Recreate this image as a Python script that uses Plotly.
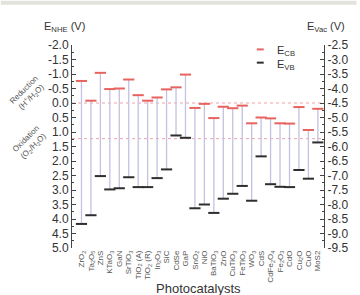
import plotly.graph_objects as go

# ---------------- data ----------------
categories = ["ZrO<sub>2</sub>", "Ta<sub>2</sub>O<sub>5</sub>", "ZnS", "KTaO<sub>3</sub>", "GaN",
              "SrTiO<sub>3</sub>", "TiO<sub>2</sub> (A)", "TiO<sub>2</sub> (R)", "In<sub>2</sub>O<sub>3</sub>",
              "SiC", "CdSe", "GaP", "SnO<sub>2</sub>", "NiO", "BaTiO<sub>3</sub>", "ZnO",
              "CuTiO<sub>3</sub>", "FeTiO<sub>3</sub>", "WO<sub>3</sub>", "CdS",
              "CdFe<sub>2</sub>O<sub>4</sub>", "Fe<sub>2</sub>O<sub>3</sub>", "CdO", "Cu<sub>2</sub>O",
              "CuO", "MoS2"]
e_cb = [-0.76, -0.08, -1.04, -0.48, -0.50, -0.81, -0.27, -0.08, -0.19, -0.47, -0.54, -0.98, 0.17,
        0.03, 0.52, 0.13, 0.18, 0.09, 0.70, 0.50, 0.53, 0.70, 0.71, 0.14, 0.93, 0.20]
e_vb = [4.17, 3.87, 2.52, 2.98, 2.94, 2.56, 2.90, 2.90, 2.59, 2.29, 1.12, 1.20, 3.63,
        3.50, 3.79, 3.30, 3.13, 2.86, 3.37, 1.84, 2.80, 2.89, 2.90, 2.31, 2.61, 1.36]
nhe_ticks = [-2.0, -1.5, -1.0, -0.5, 0.0, 0.5, 1.0, 1.5, 2.0, 2.5, 3.0, 3.5, 4.0, 4.5, 5.0]
vac_ticks = [-2.5, -3.0, -3.5, -4.0, -4.5, -5.0, -5.5, -6.0, -6.5, -7.0, -7.5, -8.0, -8.5, -9.0, -9.5]
water_levels = [0.0, 1.23]   # H+/H2 and O2/H2O

W, H = 360, 295
L, R, T, B = 72, 33, 45, 43
PW, PH = W - L - R, H - T - B


def pxx(p):
    return (p - L) / PW


def pxy(p):
    return 1 - (p - T) / PH


idx = list(range(len(categories)))

RED = "#e8625e"
BLK = "#2e2e2e"
LAV = "#c2c2e2"

fig = go.Figure()

# connecting vertical lines CB -> VB
xs, ys = [], []
for i, c, v in zip(idx, e_cb, e_vb):
    xs += [i, i, None]
    ys += [c, v, None]
fig.add_trace(go.Scatter(x=xs, y=ys, mode="lines", line=dict(color=LAV, width=1.3),
                         hoverinfo="skip", showlegend=False))

fig.add_trace(go.Scatter(x=idx, y=e_cb, mode="markers", name="E<sub>CB</sub>",
                         marker=dict(symbol="line-ew", size=8, line=dict(color=RED, width=2)),
                         showlegend=False))
fig.add_trace(go.Scatter(x=idx, y=e_vb, mode="markers", name="E<sub>VB</sub>",
                         marker=dict(symbol="line-ew", size=8, line=dict(color=BLK, width=2)),
                         showlegend=False))
# dummy trace so the vacuum-scale axis is drawn
fig.add_trace(go.Scatter(x=[None], y=[None], yaxis="y2", showlegend=False, hoverinfo="skip"))

shapes = []
for lv in water_levels:
    shapes.append(dict(type="line", xref="paper", yref="y", x0=0, x1=1, y0=lv, y1=lv,
                       line=dict(color="#f2a0a6", width=1, dash="dot"), layer="below"))
# top grey band of the original screenshot
shapes.append(dict(type="rect", xref="paper", yref="paper", x0=pxx(0), x1=pxx(W),
                   y0=pxy(4), y1=pxy(0), fillcolor="#e3e3dc", line=dict(width=0), layer="below"))
# legend dashes
shapes.append(dict(type="line", xref="paper", yref="paper", x0=pxx(259), x1=pxx(266),
                   y0=pxy(49.5), y1=pxy(49.5), line=dict(color=RED, width=2)))
shapes.append(dict(type="line", xref="paper", yref="paper", x0=pxx(259), x1=pxx(266),
                   y0=pxy(63), y1=pxy(63), line=dict(color=BLK, width=2)))

FONT = "Liberation Sans, Arial, sans-serif"
TXT = "#333333"
ann = []


def add_text(text, x, y, size, color=TXT, angle=0, xanchor="center", yanchor="middle", align="center"):
    ann.append(dict(text=text, xref="paper", yref="paper", x=pxx(x), y=pxy(y), showarrow=False,
                    xanchor=xanchor, yanchor=yanchor, textangle=angle, align=align,
                    font=dict(family=FONT, size=size, color=color)))


add_text("E<sub>NHE</sub> (V)", 64, 27, 11)
add_text("E<sub>Vac</sub> (V)", 329, 27, 11)
add_text("E<sub>CB</sub>", 277, 51, 11, xanchor="left")
add_text("E<sub>VB</sub>", 277, 65, 11, xanchor="left")
add_text("Reduction<br>(H<sup>+</sup>/H<sub>2</sub>O)", 27, 95, 8, color="#555555", angle=-45)
add_text("Oxidation<br>(O<sub>2</sub>/H<sub>2</sub>O)", 29, 145, 8, color="#555555", angle=-45)
add_text("Photocatalysts", (L + W - R) / 2, 293, 13)

fig.update_layout(
    width=W, height=H, margin=dict(l=L, r=R, t=T, b=B, pad=0),
    paper_bgcolor="white", plot_bgcolor="white",
    font=dict(family=FONT, size=12, color=TXT),
    shapes=shapes, annotations=ann, showlegend=False,
    xaxis=dict(range=[-1.0, 25.65], tickmode="array", tickvals=idx, ticktext=categories,
               tickangle=-90, tickfont=dict(size=8, color="#555555"), showline=False,
               showgrid=False, zeroline=False, ticks=""),
    yaxis=dict(range=[5.0, -2.0], tickmode="array", tickvals=nhe_ticks,
               ticktext=[f"{v:.1f}" for v in nhe_ticks], showline=True, linecolor="#444444",
               linewidth=1, ticks="inside", ticklen=4, tickcolor="#444444", showgrid=False,
               zeroline=False, tickfont=dict(size=12, color=TXT),
               minor=dict(tickmode="linear", tick0=0, dtick=0.25, ticks="inside", ticklen=2,
                          tickcolor="#444444")),
    yaxis2=dict(range=[-9.5, -2.5], overlaying="y", side="right", anchor="x", tickmode="array",
                tickvals=vac_ticks, ticktext=[f"{v:.1f}" for v in vac_ticks], showline=True,
                linecolor="#444444", linewidth=1, ticks="inside", ticklen=4, tickcolor="#444444",
                showgrid=False, zeroline=False, tickfont=dict(size=12, color=TXT),
                minor=dict(tickmode="linear", tick0=0, dtick=0.25, ticks="inside", ticklen=2,
                           tickcolor="#444444")),
)

fig.write_html("out.html")
